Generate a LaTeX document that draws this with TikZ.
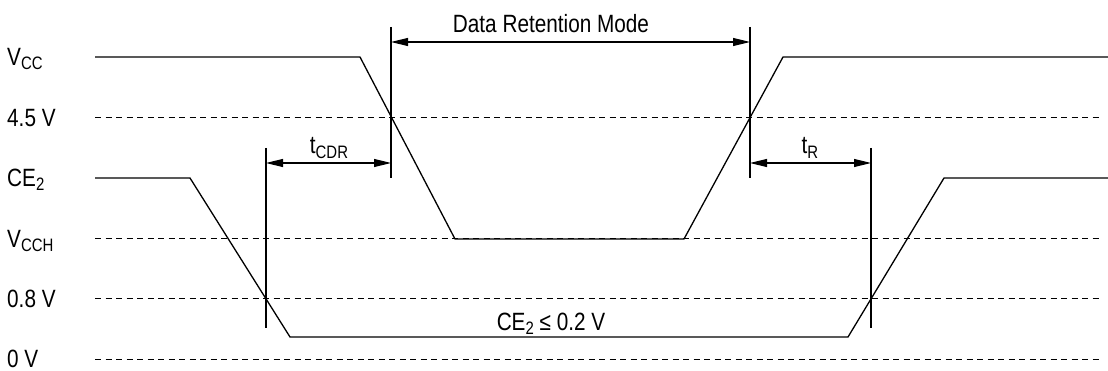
\documentclass[tikz,border=0pt]{standalone}
\usepackage{fontspec}
\setmainfont{Liberation Sans}[FakeStretch=0.83]
\usetikzlibrary{arrows.meta}
\newcommand{\sbs}[1]{\raisebox{-4.5pt}{\fontsize{18}{20}\selectfont #1}}
\begin{document}
\begin{tikzpicture}[x=1pt,y=-1pt,
  font=\fontsize{25}{29}\selectfont,
  sig/.style={line width=1.3pt, line join=miter},
  lvl/.style={dash pattern=on 6pt off 4.5pt, line width=1pt},
  dimline/.style={line width=1.1pt},
  dimarrow/.style={{Triangle[length=17pt,width=8pt]}-{Triangle[length=17pt,width=8pt]}, line width=1.1pt},
  lab/.style={anchor=base west, inner sep=0pt},
  txt/.style={anchor=base, inner sep=0pt}]
\path[use as bounding box] (0,0) rectangle (1108,371);

% level labels
\node[lab] (lvcc)  at (7,65.5)  {V\sbs{CC}};
\node[lab] (l45)   at (7,126.5) {4.5 V};
\node[lab] (lce)   at (7,186.5) {CE\sbs{2}};
\node[lab] (lvcch) at (7,247.5) {V\sbs{CCH}};
\node[lab] (l08)   at (7,307.5) {0.8 V};
\node[lab] (l0)    at (7,367.5) {0 V};

% dashed reference levels
\coordinate (a1) at (95,118);  \coordinate (a2) at (1103,118);
\coordinate (b1) at (95,239);  \coordinate (b2) at (1103,239);
\coordinate (c1) at (95,299);  \coordinate (c2) at (1103,299);
\coordinate (d1) at (95,359);  \coordinate (d2) at (1103,359);
\draw[lvl] (a1) -- (a2);
\draw[lvl] (b1) -- (b2);
\draw[lvl] (c1) -- (c2);
\draw[lvl] (d1) -- (d2);

% VCC waveform
\coordinate (v0) at (95,57);
\coordinate (v1) at (360,57);
\coordinate (v2) at (455,239);
\coordinate (v3) at (684,239);
\coordinate (v4) at (783,57);
\coordinate (v5) at (1108,57);
\draw[sig] (v0) -- (v1) -- (v2) -- (v3) -- (v4) -- (v5);

% CE2 waveform
\coordinate (e0) at (95,178);
\coordinate (e1) at (190,178);
\coordinate (e2) at (290,337);
\coordinate (e3) at (848,337);
\coordinate (e4) at (944,178);
\coordinate (e5) at (1108,178);
\draw[sig] (e0) -- (e1) -- (e2) -- (e3) -- (e4) -- (e5);

% vertical markers
\coordinate (m1t) at (391,27);  \coordinate (m1b) at (391,178);
\coordinate (m2t) at (750,27);  \coordinate (m2b) at (750,178);
\coordinate (m3t) at (266,148); \coordinate (m3b) at (266,328);
\coordinate (m4t) at (871,148); \coordinate (m4b) at (871,328);
\draw[dimline] (m1t) -- (m1b);
\draw[dimline] (m2t) -- (m2b);
\draw[dimline] (m3t) -- (m3b);
\draw[dimline] (m4t) -- (m4b);

% dimension arrows
\coordinate (dr1) at (391,42);  \coordinate (dr2) at (750,42);
\coordinate (cd1) at (266,163); \coordinate (cd2) at (391,163);
\coordinate (tr1) at (750,163); \coordinate (tr2) at (871,163);
\draw[dimarrow] (dr1) -- (dr2);
\draw[dimarrow] (cd1) -- (cd2);
\draw[dimarrow] (tr1) -- (tr2);

% labels
\node[txt] (drm) at (551,33) {Data Retention Mode};
\node[txt] (tcdr) at (329,154) {t\sbs{CDR}};
\node[txt] (tr) at (810,154) {t\sbs{R}};
\node[txt] (ce) at (551,330) {CE\sbs{2} ≤ 0.2 V};
\end{tikzpicture}
\end{document}
